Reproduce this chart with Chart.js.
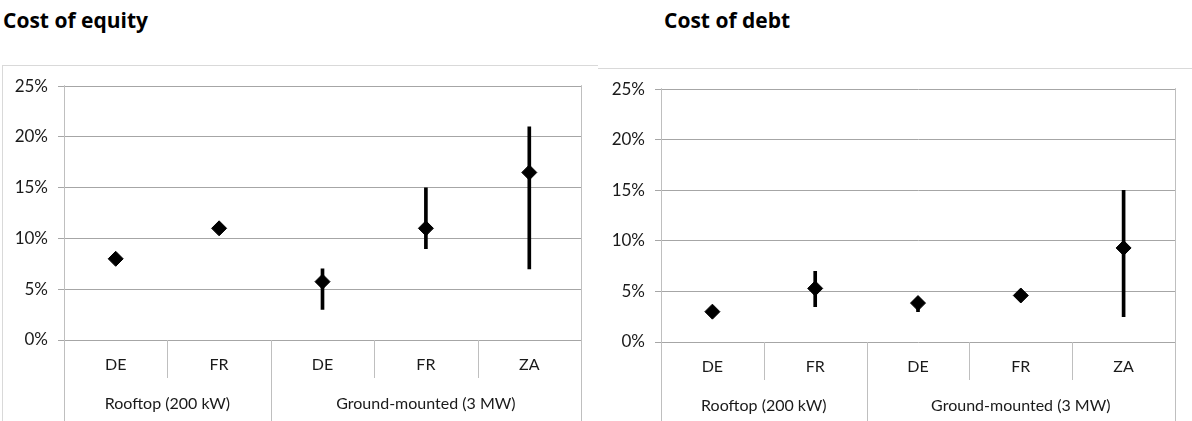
<!DOCTYPE html>
<html>
<head>
<meta charset="utf-8">
<script src="https://cdn.jsdelivr.net/npm/chart.js@4.4.1/dist/chart.umd.min.js"></script>
<style>
  body { margin: 0; width: 1192px; height: 421px; overflow: hidden; background: #fff; position: relative; font-family: Lato, sans-serif; }
  .title { position: absolute; top: 6px; font-family: "Open Sans", sans-serif; font-weight: bold; font-size: 21px; color: #000; }
  .box { position: absolute; overflow: hidden; background: #fff; }
  #boxEq { left: 2px; top: 65px; width: 595px; height: 356px; border-top: 1px solid #d9d9d9; border-left: 1px solid #d9d9d9; }
  #boxDebt { left: 598px; top: 68px; width: 594px; height: 353px; border-top: 1px solid #d9d9d9; }
  canvas { display: block; }
</style>
</head>
<body>
<div class="title" style="left:3px">Cost of equity</div>
<div class="title" style="left:664px">Cost of debt</div>
<div class="box" id="boxEq"><canvas id="chartEq" width="595" height="355"></canvas></div>
<div class="box" id="boxDebt"><canvas id="chartDebt" width="594" height="353"></canvas></div>
<script>
const categories = ['DE', 'FR', 'DE', 'FR', 'ZA'];
const groupNames = ['Rooftop (200 kW)', 'Ground-mounted (3 MW)'];
const groupSizes = [2, 3];
const yTicks = [0, 5, 10, 15, 20, 25];

// cost of equity, %
const equityMid = [8, 11, 5.75, 11, 16.5];
const equityLow = [null, null, 3, 9, 7];
const equityHigh = [null, null, 7, 15, 21];

// cost of debt, %
const debtMid = [3, 5.3, 3.85, 4.6, 9.3];
const debtLow = [null, 3.5, 3.0, 4.1, 2.5];
const debtHigh = [null, 7, 4.3, 5.0, 15];

Chart.defaults.font.family = 'Lato, sans-serif';
Chart.defaults.color = '#1a1a1a';

const groupAxis = {
    id: 'groupAxis',
    afterDraw(chart) {
        const ctx = chart.ctx;
        const x = chart.scales.x;
        const top = chart.chartArea.bottom;
        const bottom = chart.height;
        ctx.save();
        ctx.strokeStyle = '#bfbfbf';
        ctx.lineWidth = 1;
        let start = 0;
        const longAt = [-0.5];
        groupSizes.forEach(n => { start += n; longAt.push(start - 0.5); });
        for (let i = 0; i < categories.length - 1; i++) {
            const v = i + 0.5;
            const px = Math.round(x.getPixelForValue(v)) + 0.5;
            ctx.beginPath();
            ctx.moveTo(px, top);
            ctx.lineTo(px, longAt.includes(v) ? bottom : top + 38);
            ctx.stroke();
        }
        [longAt[0], longAt[longAt.length - 1]].forEach(v => {
            const px = Math.round(x.getPixelForValue(v)) + 0.5;
            ctx.beginPath();
            ctx.moveTo(px, chart.chartArea.top - 1);
            ctx.lineTo(px, bottom);
            ctx.stroke();
        });
        ctx.fillStyle = '#1a1a1a';
        ctx.font = '16px Lato, sans-serif';
        ctx.textAlign = 'center';
        ctx.textBaseline = 'middle';
        start = 0;
        groupNames.forEach((name, g) => {
            const mid = start + (groupSizes[g] - 1) / 2;
            ctx.fillText(name, x.getPixelForValue(mid), top + 64);
            start += groupSizes[g];
        });
        ctx.restore();
    }
};

function makeChart(id, mid, low, high, yWidth, xHeight) {
    const ranges = low.map((l, i) => (l === null ? null : [l, high[i]]));
    return new Chart(document.getElementById(id), {
        type: 'bar',
        data: {
            labels: categories,
            datasets: [{
                type: 'line',
                data: mid,
                showLine: false,
                pointStyle: 'rectRot',
                pointRadius: 7.5,
                pointBackgroundColor: '#000',
                pointBorderColor: '#000',
                pointBorderWidth: 1,
                order: 0
            }, {
                type: 'bar',
                data: ranges,
                backgroundColor: '#000',
                barThickness: 3,
                borderWidth: 0,
                order: 1
            }]
        },
        options: {
            responsive: false,
            animation: false,
            devicePixelRatio: 1,
            layout: { padding: { left: 0, right: 17, top: 20, bottom: 0 } },
            plugins: { legend: { display: false }, tooltip: { enabled: false } },
            scales: {
                x: {
                    offset: true,
                    grid: { display: false, drawTicks: false },
                    border: { display: false },
                    ticks: { padding: 15, font: { size: 16 }, color: '#1a1a1a' },
                    afterFit: s => { s.height = xHeight; }
                },
                y: {
                    min: 0,
                    max: 25,
                    afterBuildTicks: s => { s.ticks = yTicks.map(v => ({ value: v })); },
                    grid: { color: '#a6a6a6', tickColor: '#a6a6a6', tickLength: 6 },
                    border: { color: '#bfbfbf' },
                    ticks: { padding: 10, font: { size: 17 }, color: '#1a1a1a', callback: v => v + '%' },
                    afterFit: s => { s.width = yWidth; }
                }
            }
        },
        plugins: [groupAxis]
    });
}

makeChart('chartEq', equityMid, equityLow, equityHigh, 61, 81);
makeChart('chartDebt', debtMid, debtLow, debtHigh, 63, 80);
</script>
</body>
</html>
